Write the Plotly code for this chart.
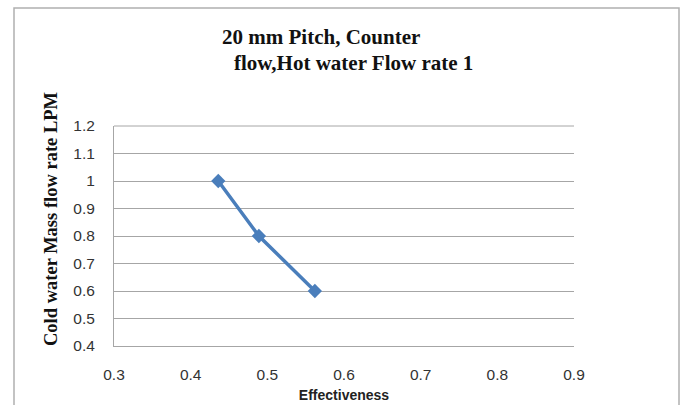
import plotly.graph_objects as go

effectiveness = [0.436, 0.489, 0.562]
cold_flow = [1.0, 0.8, 0.6]
x_ticks = [0.3, 0.4, 0.5, 0.6, 0.7, 0.8, 0.9]
x_tick_labels = ["0.3", "0.4", "0.5", "0.6", "0.7", "0.8", "0.9"]
y_ticks = [0.4, 0.5, 0.6, 0.7, 0.8, 0.9, 1.0, 1.1, 1.2]
y_tick_labels = ["0.4", "0.5", "0.6", "0.7", "0.8", "0.9", "1", "1.1", "1.2"]

W, H = 684, 405
L, R, T, B = 114, 574, 126, 346

fig = go.Figure()
fig.add_trace(go.Scatter(
    x=effectiveness, y=cold_flow, mode="lines+markers",
    line=dict(color="#4a7ebb", width=3.5),
    marker=dict(symbol="diamond", size=11, color="#4a7ebb"),
    showlegend=False, hoverinfo="skip",
))

def px_x(p):
    return (p - L) / (R - L)

def px_y(p):
    return (B - p) / (B - T)

tickfont = dict(family="Liberation Sans", size=15.5, color="#333333")

fig.update_layout(
    width=W, height=H,
    margin=dict(l=L, r=W - R, t=T, b=H - B, autoexpand=False),
    paper_bgcolor="white", plot_bgcolor="white",
    xaxis=dict(range=[0.3, 0.9], tickvals=x_ticks, ticktext=x_tick_labels,
               showgrid=False, zeroline=False, showline=True, linecolor="#a6a6a6",
               linewidth=1, ticks="", tickfont=tickfont, ticklabelstandoff=14, automargin=False,
               title=dict(text="<b>Effectiveness</b>", font=dict(family="Liberation Sans", size=14, color="#222"),
                          standoff=8)),
    yaxis=dict(range=[0.4, 1.2], tickvals=y_ticks, ticktext=y_tick_labels,
               showgrid=True, gridcolor="#a6a6a6", gridwidth=1, zeroline=False,
               showline=True, linecolor="#a6a6a6", linewidth=1, ticks="",
               tickfont=tickfont, ticklabelstandoff=15, automargin=False),
    shapes=[
        dict(type="rect", xref="paper", yref="paper",
             x0=px_x(14), x1=px_x(679), y0=px_y(412), y1=px_y(8),
             line=dict(color="#b0b0b0", width=1.5), layer="below"),
        dict(type="line", xref="paper", yref="paper",
             x0=0, x1=1, y0=1, y1=1, line=dict(color="#a6a6a6", width=1)),
    ],
    annotations=[
        dict(text="<b>20 mm Pitch, Counter</b>", xref="paper", yref="paper",
             x=px_x(321), y=px_y(37), showarrow=False, xanchor="center", yanchor="middle",
             font=dict(family="Liberation Serif", size=21, color="#111")),
        dict(text="<b>flow,Hot water Flow rate 1</b>", xref="paper", yref="paper",
             x=px_x(353), y=px_y(63), showarrow=False, xanchor="center", yanchor="middle",
             font=dict(family="Liberation Serif", size=21, color="#111")),
        dict(text="<b>Cold water Mass flow rate LPM</b>", xref="paper", yref="paper",
             x=px_x(51), y=px_y(219), showarrow=False, xanchor="center", yanchor="middle",
             textangle=-90, font=dict(family="Liberation Serif", size=18.5, color="#111")),
    ],
)

fig.write_html("out.html")
